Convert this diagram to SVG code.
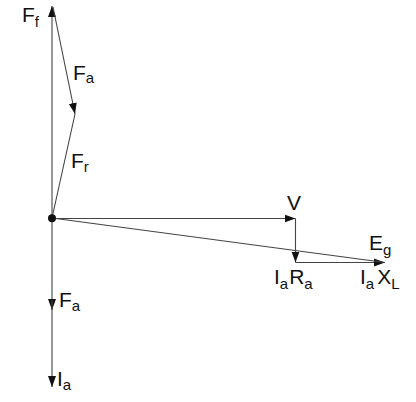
<svg xmlns="http://www.w3.org/2000/svg" width="416" height="402" viewBox="0 0 416 402">
<defs>
<style>
.ln{stroke:#444;stroke-width:1.1;fill:none}
.lb{font-family:"Liberation Sans",Arial,sans-serif;font-size:21px;fill:#111}
.sb{font-size:15px}
</style>
<marker id="ah" markerUnits="userSpaceOnUse" markerWidth="12" markerHeight="9" refX="11" refY="4" orient="auto" viewBox="0 0 12 8">
<path d="M0,0 L11,4 L0,8 Z" fill="#111"/>
</marker>
</defs>
<rect width="416" height="402" fill="#fff"/>
<g id="connectors">
<line class="ln" x1="52" y1="218" x2="52" y2="6" marker-end="url(#ah)"/>
<line class="ln" x1="53" y1="7" x2="75" y2="114" marker-end="url(#ah)"/>
<line class="ln" x1="52" y1="218" x2="75" y2="114"/>
<line class="ln" x1="52" y1="218.5" x2="295.5" y2="218.5" marker-end="url(#ah)"/>
<line class="ln" x1="295.5" y1="218.5" x2="295.5" y2="262.5" marker-end="url(#ah)"/>
<line class="ln" x1="295.5" y1="262.5" x2="385" y2="262.5" marker-end="url(#ah)"/>
<line class="ln" x1="52" y1="218" x2="385" y2="262.5"/>
<line class="ln" x1="52" y1="218" x2="52" y2="310" marker-end="url(#ah)"/>
<line class="ln" x1="52" y1="300" x2="52" y2="387" marker-end="url(#ah)"/>
</g>
<g id="origin"><circle cx="52" cy="218.3" r="4" fill="#111"/></g>
<g id="label-Ff"><text class="lb" x="22" y="22">F<tspan class="sb" dy="5">f</tspan></text></g>
<g id="label-Fa-top"><text class="lb" x="73" y="80">F<tspan class="sb" dy="3">a</tspan></text></g>
<g id="label-Fr"><text class="lb" x="71" y="168">F<tspan class="sb" dy="4">r</tspan></text></g>
<g id="label-V"><text class="lb" x="287" y="210">V</text></g>
<g id="label-Eg"><text class="lb" x="369" y="250">E<tspan class="sb" dy="5">g</tspan></text></g>
<g id="label-IaRa"><text class="lb" x="274" y="284">I<tspan class="sb" dy="5">a</tspan><tspan dy="-5" dx="1">R</tspan><tspan class="sb" dy="5">a</tspan></text></g>
<g id="label-IaXL"><text class="lb" x="360" y="284">I<tspan class="sb" dy="5">a</tspan><tspan dy="-5" dx="3">X</tspan><tspan class="sb" dy="5">L</tspan></text></g>
<g id="label-Fa-bottom"><text class="lb" x="59" y="307">F<tspan class="sb" dy="4">a</tspan></text></g>
<g id="label-Ia"><text class="lb" x="57" y="386">I<tspan class="sb" dy="4">a</tspan></text></g>
</svg>
